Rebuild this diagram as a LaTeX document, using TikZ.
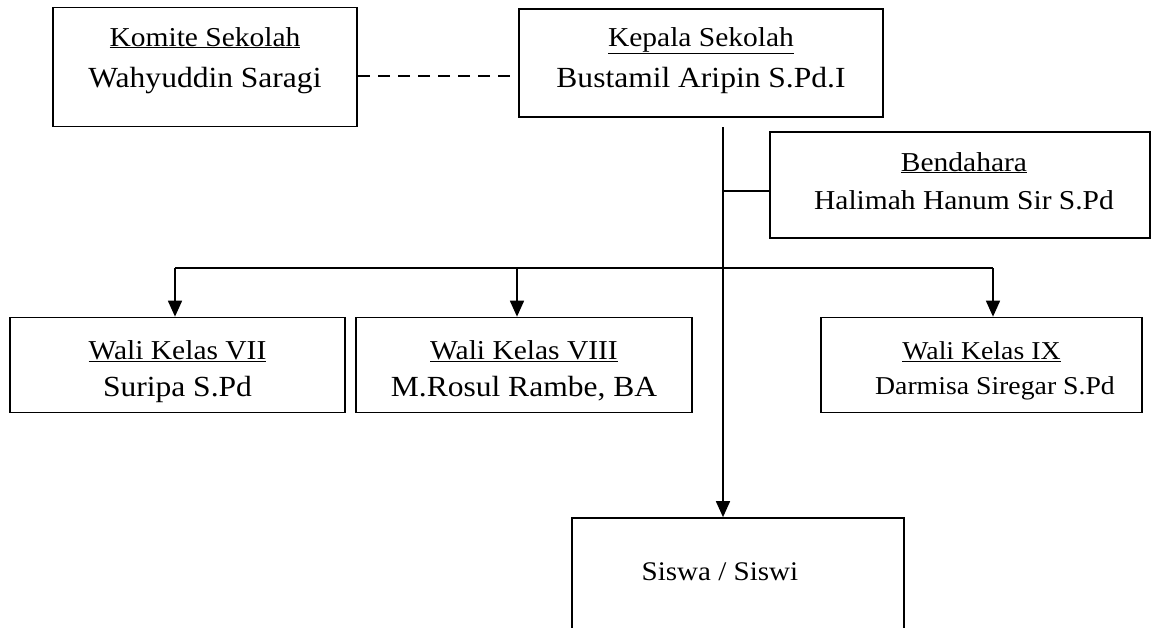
\documentclass[tikz,border=0pt]{standalone}
\usepackage{fontspec}
\setmainfont{Liberation Serif}[FakeStretch=1.08]
\usetikzlibrary{arrows.meta}
\begin{document}
\begin{tikzpicture}[x=1pt,y=-1pt,
  box/.style={draw, line width=1.7pt, inner sep=0pt},
  ttl/.style={font=\fontsize{27.3}{30}\selectfont, inner sep=0pt, anchor=base},
  nm/.style={font=\fontsize{29.2}{32}\selectfont, inner sep=0pt, anchor=base},
  ln/.style={line width=1.7pt},
  arr/.style={line width=1.7pt, -{Triangle[width=14pt,length=16pt]}}]
\useasboundingbox (0,0) rectangle (1151,627);
\clip (0,0) rectangle (1151,627);
% boxes
\node[box, minimum width=304pt, minimum height=119pt] (komite) at (205,67) {};
\node[box, minimum width=364pt, minimum height=108pt] (kepala) at (701,63) {};
\node[box, minimum width=380pt, minimum height=106pt] (bend) at (960,185) {};
\node[box, minimum width=335pt, minimum height=95pt] (w7) at (177.5,365) {};
\node[box, minimum width=336pt, minimum height=95pt] (w8) at (524,365) {};
\node[box, minimum width=321pt, minimum height=95pt] (w9) at (981.5,365) {};
\node[box, minimum width=332pt, minimum height=142pt] (siswa) at (738,589) {};
% texts
\node[ttl] (komiteT) at (205,46) {\underline{Komite Sekolah}};
\node[nm] (komiteN) at (205,87) {Wahyuddin Saragi};
\node[ttl] (kepalaT) at (701,46) {\underline{Kepala Sekolah}};
\node[nm] (kepalaN) at (701,87) {Bustamil Aripin S.Pd.I};
\node[ttl] (bendT) at (964,171) {\underline{Bendahara}};
\node[ttl] (bendN) at (964,209) {Halimah Hanum Sir S.Pd};
\node[ttl] (w7T) at (177.5,359) {\underline{Wali Kelas VII}};
\node[nm] (w7N) at (177.5,396) {Suripa S.Pd};
\node[ttl] (w8T) at (524,359) {\underline{Wali Kelas VIII}};
\node[nm] (w8N) at (524,396) {M.Rosul Rambe, BA};
\node[ttl, font=\fontsize{25.7}{28}\selectfont] (w9T) at (981.5,359) {\underline{Wali Kelas IX}};
\node[ttl, font=\fontsize{25.7}{28}\selectfont] (w9N) at (995,394) {Darmisa Siregar S.Pd};
\node[ttl, font=\fontsize{26.9}{30}\selectfont] (siswaT) at (720,580) {Siswa / Siswi};
% connectors
\coordinate (dj) at (358,76);
\draw[ln, dash pattern=on 12pt off 8pt] (dj) -- (dj -| kepala.west);
\coordinate (vt) at (723,127);
\draw[arr] (vt) -- (vt |- siswa.north);
\coordinate (bj) at (723,191);
\draw[ln] (bj) -- (bj -| bend.west);
\coordinate (hl) at (175,268);
\coordinate (hm) at (517,268);
\coordinate (hr) at (993,268);
\draw[ln] (hl) -- (hr);
\draw[arr] (hl) -- (hl |- w7.north);
\draw[arr] (hm) -- (hm |- w8.north);
\draw[arr] (hr) -- (hr |- w9.north);
\end{tikzpicture}
\end{document}
